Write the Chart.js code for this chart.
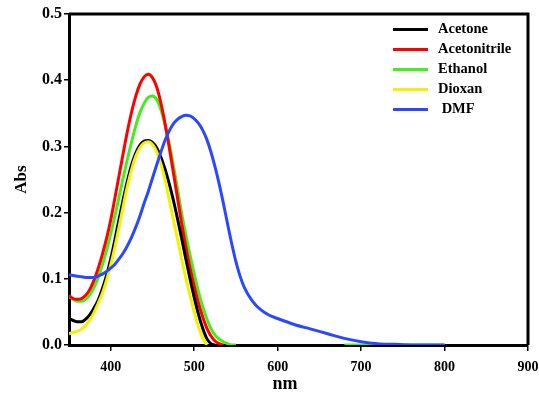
<!DOCTYPE html>
<html>
<head>
<meta charset="utf-8">
<script src="https://cdn.jsdelivr.net/npm/chart.js@4/dist/chart.umd.min.js"></script>
<style>
  html, body { margin: 0; padding: 0; background: #ffffff; }
  #wrap { position: relative; width: 539px; height: 395px; }
</style>
</head>
<body>
<div id="wrap"><canvas id="c" width="539" height="395"></canvas></div>
<script>
// ---- data ----
const wavelengths = [350,355,360,365,370,375,380,385,390,395,400,405,410,415,420,425,430,435,440,445,
  450,455,460,465,470,475,480,485,490,495,500,505,510,515,520,525,530,535,540,545,550,555,560,
  570,580,590,600,620,640,660,680,700,720,740,760,780,800];

const seriesNames = ['Acetone', 'Acetonitrile', 'Ethanol', 'Dioxan', ' DMF'];

const acetone = [0.040,0.037,0.035,0.035,0.039,0.046,0.056,0.068,0.085,0.105,0.130,0.159,0.190,0.220,0.248,0.272,0.290,0.302,0.308,0.309,
  0.306,0.298,0.284,0.266,0.244,0.219,0.191,0.161,0.130,0.100,0.072,0.047,0.026,0.010,0.002,0.000,null,null,null,null,null,null,null,
  null,null,null,null,null,null,null,null,null,null,null,null,null,null];

const acetonitrile = [0.075,0.070,0.069,0.070,0.075,0.084,0.098,0.116,0.137,0.161,0.189,0.222,0.256,0.290,0.323,0.352,0.376,0.394,0.405,0.409,
  0.404,0.390,0.366,0.335,0.299,0.261,0.222,0.183,0.148,0.117,0.089,0.064,0.043,0.026,0.014,0.006,0.002,0.000,null,null,null,null,null,
  null,null,null,null,null,null,null,null,null,null,null,null,null,null];

const ethanol = [0.073,0.069,0.066,0.066,0.069,0.076,0.087,0.102,0.121,0.143,0.168,0.195,0.224,0.253,0.281,0.307,0.331,0.351,0.365,0.374,
  0.376,0.371,0.356,0.333,0.305,0.272,0.236,0.199,0.166,0.136,0.108,0.081,0.059,0.040,0.025,0.015,0.009,0.005,0.002,0.000,0.000,null,null,
  null,null,null,null,null,null,null,0.000,0.000,0.000,0.000,0.000,0.000,0.000];

const dioxan = [0.017,0.019,0.021,0.024,0.030,0.038,0.049,0.063,0.078,0.098,0.121,0.148,0.178,0.210,0.240,0.265,0.285,0.298,0.305,0.307,
  0.303,0.292,0.274,0.250,0.220,0.190,0.160,0.130,0.101,0.075,0.050,0.028,0.011,0.000,null,null,null,null,null,null,null,null,null,
  null,null,null,null,null,null,null,null,null,null,null,null,null,null];

const dmf = [0.106,0.105,0.104,0.103,0.102,0.102,0.102,0.104,0.107,0.111,0.116,0.122,0.130,0.139,0.150,0.163,0.178,0.195,0.214,0.232,
  0.252,0.272,0.291,0.309,0.323,0.334,0.341,0.345,0.347,0.346,0.342,0.335,0.325,0.311,0.292,0.269,0.243,0.214,0.183,0.153,0.126,0.104,0.087,
  0.066,0.053,0.045,0.040,0.031,0.024,0.017,0.010,0.005,0.002,0.001,0.000,0.000,0.000];

const xTicks = [400, 500, 600, 700, 800, 900];
const yTicks = [0.0, 0.1, 0.2, 0.3, 0.4, 0.5];

// ---- styling ----
const colors = ['#000000', '#ff0000', '#44ee1a', '#f2f200', '#2a48ff'];
const drawOrder = [2, 3, 4, 1, 0];   // lower = drawn on top
const serif = "'Liberation Serif', 'Times New Roman', serif";

function toPoints(values) {
  return wavelengths.map((w, i) => ({ x: w, y: values[i] }));
}
const allSeries = [acetone, acetonitrile, ethanol, dioxan, dmf];

const datasets = allSeries.map((vals, i) => ({
  label: seriesNames[i],
  data: toPoints(vals),
  borderColor: colors[i],
  backgroundColor: colors[i],
  borderWidth: 3,
  pointRadius: 0,
  fill: false,
  spanGaps: false,
  cubicInterpolationMode: 'monotone',
  order: drawOrder[i]
}));

const framePlugin = {
  id: 'frame',
  beforeDatasetsDraw(chart) {
    const { ctx, chartArea: a } = chart;
    ctx.save();
    ctx.strokeStyle = '#000';
    ctx.lineWidth = 3;
    ctx.beginPath();
    ctx.moveTo(a.left, a.top);
    ctx.lineTo(a.right, a.top);
    ctx.lineTo(a.right, a.bottom);
    ctx.stroke();
    ctx.restore();
  }
};

const legendPlugin = {
  id: 'insideLegend',
  afterDraw(chart) {
    const { ctx } = chart;
    ctx.save();
    ctx.font = 'bold 14.5px ' + serif;
    ctx.textBaseline = 'middle';
    ctx.textAlign = 'left';
    chart.data.datasets.forEach((ds, i) => {
      const y = 29.5 + i * 20;
      ctx.strokeStyle = ds.borderColor;
      ctx.lineWidth = 3;
      ctx.beginPath();
      ctx.moveTo(393, y);
      ctx.lineTo(428, y);
      ctx.stroke();
      ctx.fillStyle = '#000';
      ctx.fillText(ds.label, 438, y);
    });
    ctx.restore();
  }
};

new Chart(document.getElementById('c'), {
  type: 'line',
  data: { datasets },
  options: {
    responsive: false,
    animation: false,
    devicePixelRatio: 1,
    layout: { padding: { left: 0, right: 11, top: 14, bottom: 0 } },
    plugins: { legend: { display: false }, tooltip: { enabled: false } },
    scales: {
      x: {
        type: 'linear',
        min: 350,
        max: 900,
        afterFit(scale) { scale.height = 50; scale.paddingLeft = 0; scale.paddingRight = 0; },
        afterBuildTicks(scale) { scale.ticks = xTicks.map(v => ({ value: v })); },
        border: { display: true, color: '#000', width: 3 },
        grid: { display: true, drawOnChartArea: false, drawTicks: true, tickLength: 6, color: '#000', lineWidth: 1.5 },
        ticks: { color: '#000', padding: 8, maxRotation: 0, font: { family: serif, size: 14, weight: 'bold' },
                 callback: v => String(v) },
        title: { display: true, text: 'nm      ', color: '#000', padding: { top: 0, bottom: 0 },
                 font: { family: serif, size: 18, weight: 'bold' } }
      },
      y: {
        type: 'linear',
        min: 0,
        max: 0.5,
        afterFit(scale) { scale.width = 69; scale.paddingTop = 0; scale.paddingBottom = 0; },
        afterBuildTicks(scale) { scale.ticks = yTicks.map(v => ({ value: v })); },
        border: { display: true, color: '#000', width: 3 },
        grid: { display: true, drawOnChartArea: false, drawTicks: true, tickLength: 5, color: '#000', lineWidth: 1.5 },
        ticks: { color: '#000', padding: 2, font: { family: serif, size: 16, weight: 'bold' },
                 callback: v => Number(v).toFixed(1) },
        title: { display: true, text: 'Abs', color: '#000', padding: { top: 11, bottom: 0 },
                 font: { family: serif, size: 17, weight: 'bold' } }
      }
    }
  },
  plugins: [framePlugin, legendPlugin]
});
</script>
</body>
</html>
